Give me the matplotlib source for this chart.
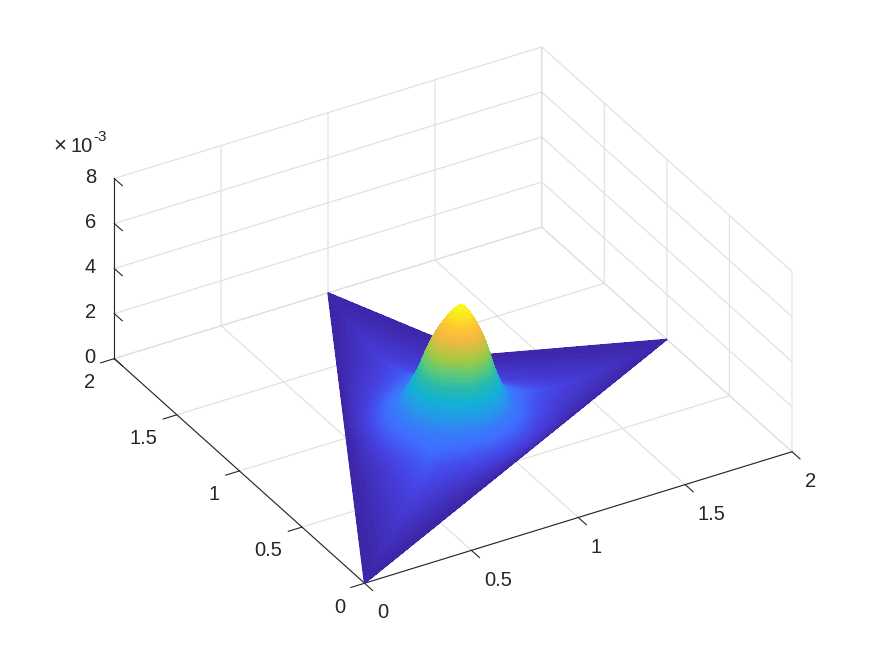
import matplotlib
matplotlib.use("Agg")
import matplotlib.pyplot as plt
from matplotlib.colors import LinearSegmentedColormap
from matplotlib.tri import Triangulation
import numpy as np

plt.rcParams['font.family'] = ['Liberation Sans', 'DejaVu Sans']

# outline of the dart shaped domain, and where the peak sits
dom_x = [0, 2, 1.28, 1]
dom_y = [0, 1, 1.28, 2]
peak_x = 1.04
peak_y = 1.0
lobe_shift = (-0.20, -0.24)

# height, going from the peak (first) out to the edge (last)
z_rings = [4.35, 4.34, 4.32, 4.29, 4.25, 4.20, 4.14, 4.08, 4.01, 3.94, 3.86,
           3.78, 3.70, 3.62, 3.53, 3.43, 3.32, 3.20, 3.08, 2.95, 2.82,
           2.68, 2.53, 2.38, 2.22, 2.09, 1.97, 1.86, 1.76, 1.66, 1.56,
           1.46, 1.36, 1.27, 1.20, 1.14, 1.08, 1.04, 1.00, 0.96, 0.93,
           0.90, 0.87, 0.84, 0.80, 0.76, 0.71, 0.66, 0.61, 0.56, 0.50,
           0.45, 0.40, 0.35, 0.31, 0.26, 0.22, 0.17, 0.10, 0.05, 0.0]

x_ticks = [0, 0.5, 1, 1.5, 2]
y_ticks = [0, 0.5, 1, 1.5, 2]
z_ticks = [0, 2, 4, 6, 8]
tick_labels = ['0', '0.5', '1', '1.5', '2']
z_labels = ['0', '2', '4', '6', '8']

parula_pos = [0, .1, .2, .3, .4, .5, .6, .7, .8, .85, .9, 1]
parula_rgb = [(.2422, .1504, .6603), (.278, .256, .889), (.244, .435, .998),
              (.154, .590, .922), (.069, .695, .839), (.16, .73, .67),
              (.36, .79, .48), (.64, .79, .26), (.90, .73, .26),
              (.98, .73, .24), (.996, .79, .20), (.977, .984, .081)]
parula = LinearSegmentedColormap.from_list('parula', list(zip(parula_pos, parula_rgb)))

# mesh: round rings around the peak that turn into the outline at the edge
n_side = 40
edge_x = []
edge_y = []
for i in range(len(dom_x)):
    j = (i + 1) % len(dom_x)
    t = np.arange(n_side) / n_side
    edge_x.append(dom_x[i] + t * (dom_x[j] - dom_x[i]))
    edge_y.append(dom_y[i] + t * (dom_y[j] - dom_y[i]))
edge_x = np.concatenate(edge_x)
edge_y = np.concatenate(edge_y)
edge_r = np.hypot(edge_x - peak_x, edge_y - peak_y)
ux = (edge_x - peak_x) / edge_r
uy = (edge_y - peak_y) / edge_r

n_rings = len(z_rings)
n_spokes = len(edge_x)
xs, ys, zs = [], [], []
for k in range(n_rings):
    s = k / (n_rings - 1)
    f = s ** 8
    rho = 0.34 * s * (1 + 0.2 * (1 - s))
    xs.append((1 - f) * (peak_x + lobe_shift[0] * s + rho * ux) + f * edge_x)
    ys.append((1 - f) * (peak_y + lobe_shift[1] * s + rho * uy) + f * edge_y)
    zs.append(np.full(n_spokes, z_rings[k]))
xs = np.concatenate(xs)
ys = np.concatenate(ys)
zs = np.concatenate(zs)

faces = []
for k in range(n_rings - 1):
    for m in range(n_spokes):
        a = k * n_spokes + m
        b = k * n_spokes + (m + 1) % n_spokes
        c = a + n_spokes
        d = b + n_spokes
        faces.append([a, b, d])
        faces.append([a, d, c])

fig = plt.figure(figsize=(8.75, 6.56), dpi=100)
side = 640
cx, cy = 444.5, 656 - 323.75
ax = fig.add_axes([(cx - side / 2) / 875, (cy - side / 2) / 656, side / 875, side / 656],
                  projection='3d')
ax.set_proj_type('ortho')
ax.view_init(elev=31.7, azim=-120.35)
ax.set_box_aspect((1, 1, 0.4275), zoom=1.11)
ax.set_xlim(0, 2, view_margin=0)
ax.set_ylim(0, 2, view_margin=0)
ax.set_zlim(0, 8, view_margin=0)
ax.computed_zorder = False

# outline under the surface, gives the edge a clean line
ax.plot(dom_x + dom_x[:1], dom_y + dom_y[:1], 0, color=parula(0.0), linewidth=1, zorder=1)
ax.plot_trisurf(Triangulation(xs, ys, faces), zs, cmap=parula, vmin=0, vmax=z_rings[0],
                linewidth=0, antialiased=False, shade=False, zorder=2)

ax.set_xticks(x_ticks, tick_labels)
ax.set_yticks(y_ticks, tick_labels)
ax.set_zticks(z_ticks, z_labels)
for axis in (ax.xaxis, ax.yaxis, ax.zaxis):
    axis.set_pane_color((1, 1, 1, 0))
    axis.pane.set_edgecolor((1, 1, 1, 0))
    axis.line.set_color('#262626')
    axis.line.set_linewidth(0.8)
    axis._axinfo['grid'].update(color='#dfdfdf', linewidth=0.8)
    axis._axinfo['tick'].update(inward_factor=0.4, outward_factor=0,
                                linewidth={True: 0.8, False: 0.8})
ax.xaxis.set_ticks_position('lower')
ax.yaxis.set_ticks_position('lower')
ax.zaxis.set_ticks_position('upper')
ax.zaxis._get_tickdir = lambda pos: 1
ax.tick_params(labelsize=14.5, colors='#262626')
ax.tick_params(axis='x', pad=4)
ax.tick_params(axis='y', pad=3)
ax.tick_params(axis='z', pad=0.5)
for lab in ax.get_xticklabels():
    lab.set_ha('left')
for lab in ax.get_yticklabels():
    lab.set_ha('right')
for lab in ax.get_zticklabels():
    lab.set_va('center_baseline')

# the exponent MATLAB puts over the z axis
fig.text(60 / 875, 1 - 146 / 656, '\u00d7', fontsize=16, color='#262626', ha='center', va='center')
fig.text(70 / 875, 1 - 147 / 656, '10', fontsize=14.5, color='#262626', ha='left', va='center')
fig.text(93 / 875, 1 - 137 / 656, '-3', fontsize=11, color='#262626', ha='left', va='center')

fig.savefig('out.png', dpi=100)
